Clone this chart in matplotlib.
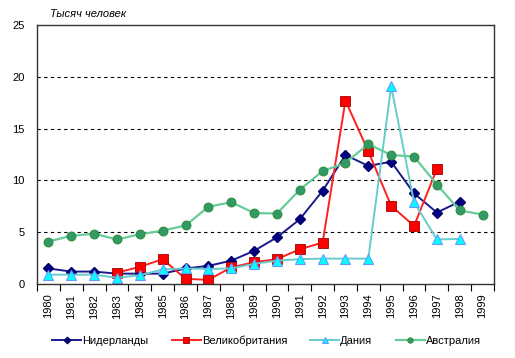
import numpy as np
import matplotlib
matplotlib.use('Agg')
import matplotlib.pyplot as plt

plt.rcParams['font.family'] = ['Liberation Sans', 'DejaVu Sans']

years = [str(y) for y in range(1980, 2000)]
nan = np.nan

# Тысяч человек
netherlands = [1.5, 1.2, 1.2, 1.0, 1.0, 1.0, 1.5, 1.75, 2.25, 3.2, 4.5, 6.25, 9.0, 12.45, 11.4, 11.8, 8.75, 6.9, 7.95, nan]
uk = [nan, nan, nan, 1.1, 1.65, 2.4, 0.5, 0.4, 1.6, 2.1, 2.4, 3.35, 4.0, 17.7, 12.8, 7.55, 5.6, 11.1, nan, nan]
denmark = [0.9, 0.9, 0.9, 0.6, 0.85, 1.4, 1.5, 1.45, 1.5, 1.95, 2.25, 2.4, 2.45, 2.45, 2.45, 19.1, 7.9, 4.3, 4.35, nan]
australia = [4.1, 4.65, 4.85, 4.3, 4.8, 5.15, 5.65, 7.45, 7.9, 6.85, 6.8, 9.1, 10.9, 11.7, 13.5, 12.45, 12.3, 9.6, 7.1, 6.7]

fig = plt.figure(figsize=(5.15, 3.58), dpi=100)
ax = fig.add_axes([37/515, 1-284/358, 457/515, 259/358])

x = np.arange(len(years))
ax.plot(x, netherlands, color='#1a1a8c', lw=1.4, marker='D', ms=5.5,
        mfc='#000080', mec='#00006a', label='Нидерланды')
ax.plot(x, uk, color='#ff2020', lw=1.4, marker='s', ms=7,
        mfc='#ff0000', mec='#a00000', mew=0.6, label='Великобритания')
ax.plot(x, denmark, color='#66cccc', lw=1.4, marker='^', ms=7.5,
        mfc='#00ffff', mec='#6699ff', mew=0.8, label='Дания')
ax.plot(x, australia, color='#66cc99', lw=1.6, marker='o', ms=6.5,
        mfc='#339966', mec='#2a8a2a', mew=0.6, label='Австралия')

ax.set_xlim(-0.5, len(years) - 0.5)
ax.set_ylim(0, 25)
ax.set_yticks([0, 5, 10, 15, 20, 25])
ax.set_xticks(x)
ax.set_xticklabels(years, rotation=90, fontsize=8)
ax.set_xticks(np.arange(-0.5, len(years)), minor=True)
ax.tick_params(axis='x', which='major', length=0, pad=7)
ax.tick_params(axis='x', which='minor', length=5, width=0.8, direction='out')
ax.tick_params(axis='y', length=0, labelsize=8, pad=9)

for v in [5, 10, 15, 20]:
    ax.axhline(v, color='black', lw=0.8, ls=(0, (3, 3)), zorder=0)

for s in ax.spines.values():
    s.set_color('#333333')
    s.set_linewidth(1.0)

fig.text(50/515, 1-14/358, 'Тысяч человек', fontsize=8, style='italic', va='center')

fig.legend(loc='center', bbox_to_anchor=(0.5175, 1-341/358), ncol=4, frameon=False,
           fontsize=8, handlelength=2.6, markerscale=0.6, columnspacing=2.1, handletextpad=0.1)

fig.savefig('out.png', dpi=100)
